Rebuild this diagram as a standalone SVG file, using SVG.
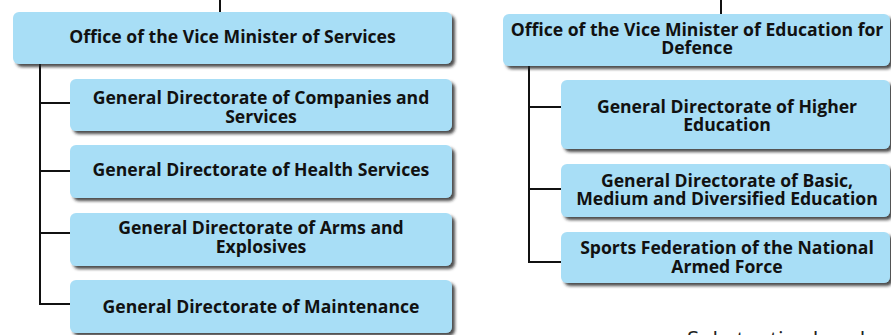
<svg xmlns="http://www.w3.org/2000/svg" width="891" height="335" viewBox="0 0 891 335">
<defs>
<filter id="sh" x="-5%" y="-20%" width="115%" height="150%">
<feDropShadow dx="3" dy="3" stdDeviation="1.5" flood-color="#222" flood-opacity="0.8"/>
</filter>
</defs>
<style>
.box{fill:#A8DEF6;filter:url(#sh)}
.t{font-family:"Open Sans","Noto Sans",sans-serif;font-weight:bold;font-size:17.6px;fill:#111;text-anchor:middle}
.c{stroke:#111;stroke-width:2;fill:none}
.sub{font-family:"Open Sans","Noto Sans",sans-serif;font-size:22px;fill:#222}
</style>
<rect width="891" height="335" fill="#fff"/>
<g id="connectors">
<path class="c" d="M220,0V12"/>
<path class="c" d="M40,64V304H70M40,103H70M40,171H70M40,233H70"/>
<path class="c" d="M721,0V14"/>
<path class="c" d="M529,66V262H561M529,107H561M529,189H561"/>
</g>
<g id="vm-services">
<rect class="box" x="13" y="12" width="439" height="52" rx="6"/>
<text class="t" x="232.5" y="43">Office of the Vice Minister of Services</text>
</g>
<g id="gd-companies">
<rect class="box" x="70" y="79" width="382" height="52" rx="6"/>
<text class="t" x="261" y="104">General Directorate of Companies and</text>
<text class="t" x="261" y="122.5">Services</text>
</g>
<g id="gd-health">
<rect class="box" x="70" y="145" width="382" height="53" rx="6"/>
<text class="t" x="261" y="176">General Directorate of Health Services</text>
</g>
<g id="gd-arms">
<rect class="box" x="70" y="213" width="382" height="53" rx="6"/>
<text class="t" x="261" y="234">General Directorate of Arms and</text>
<text class="t" x="261" y="252.5">Explosives</text>
</g>
<g id="gd-maintenance">
<rect class="box" x="70" y="280" width="382" height="53" rx="6"/>
<text class="t" x="261" y="313">General Directorate of Maintenance</text>
</g>
<g id="vm-education">
<rect class="box" x="503" y="14" width="387" height="52" rx="6"/>
<text class="t" x="697" y="35.5">Office of the Vice Minister of Education for</text>
<text class="t" x="697" y="54.3">Defence</text>
</g>
<g id="gd-higher">
<rect class="box" x="561" y="80" width="329" height="69" rx="6"/>
<text class="t" x="727" y="112.7">General Directorate of Higher</text>
<text class="t" x="727" y="131">Education</text>
</g>
<g id="gd-basic">
<rect class="box" x="561" y="164" width="329" height="53" rx="6"/>
<text class="t" x="727" y="186.7">General Directorate of Basic,</text>
<text class="t" x="727" y="205">Medium and Diversified Education</text>
</g>
<g id="sports">
<rect class="box" x="561" y="232" width="329" height="51" rx="6"/>
<text class="t" x="727" y="254.3">Sports Federation of the National</text>
<text class="t" x="727" y="272.7">Armed Force</text>
</g>
<text class="sub" x="687" y="347">Substantive Level</text>
</svg>
